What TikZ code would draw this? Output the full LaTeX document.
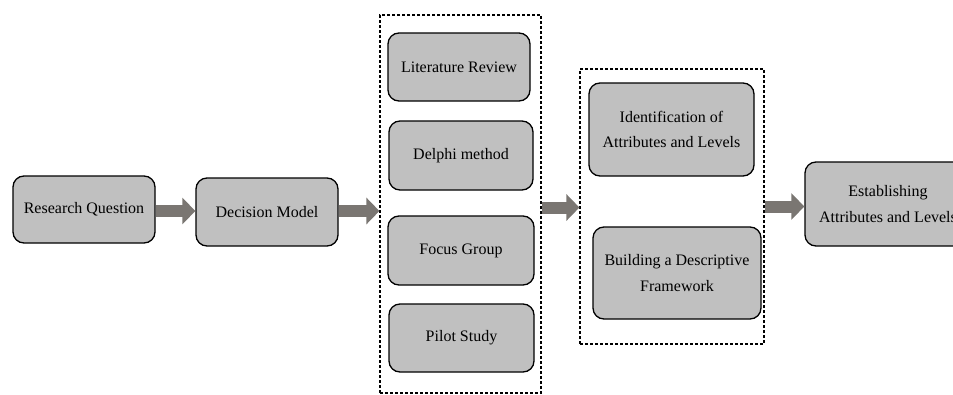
\documentclass[tikz,border=0pt]{standalone}
\usepackage{fontspec}
\setmainfont{Liberation Serif}
\usetikzlibrary{arrows.meta}
\definecolor{boxgray}{RGB}{192,192,192}
\definecolor{arrgray}{RGB}{122,118,114}
\tikzset{
  stepbox/.style={draw=black, line width=1.3pt, fill=boxgray, rounded corners=11pt,
    inner sep=0pt, align=center, font=\fontsize{16pt}{25.5pt}\selectfont},
  groupbox/.style={draw=black, line width=1.2pt, dash pattern=on 3pt off 2pt, inner sep=0pt},
  fatarrow/.style={draw=arrgray, line width=12pt, -{Triangle[length=13pt,width=26pt]}}
}
\begin{document}
\begin{tikzpicture}[x=1pt,y=1pt]
\useasboundingbox (0,0) rectangle (953,-394);
% groups
\node[groupbox, minimum width=161pt, minimum height=378pt] (g1) at (460.5,-204) {};
\node[groupbox, minimum width=184pt, minimum height=275pt] (g2) at (672,-206.5) {};
% boxes
\node[stepbox, minimum width=142pt, minimum height=67pt] (rq) at (84,-209.5) {Research Question};
\node[stepbox, minimum width=142pt, minimum height=68pt] (dm) at (267,-212) {Decision Model};
\node[stepbox, minimum width=142pt, minimum height=68pt] (lr) at (459,-67) {Literature Review};
\node[stepbox, minimum width=144pt, minimum height=69pt] (dl) at (461,-155.5) {Delphi method};
\node[stepbox, minimum width=146pt, minimum height=69pt] (fg) at (461,-250.5) {Focus Group};
\node[stepbox, minimum width=145pt, minimum height=68pt] (ps) at (461.5,-338) {Pilot Study};
\node[stepbox, minimum width=165pt, minimum height=93pt] (id) at (671.5,-129.5) {Identification of\\Attributes and Levels};
\node[stepbox, minimum width=168pt, minimum height=92pt] (bd) at (677,-273) {Building a Descriptive\\Framework};
\node[stepbox, minimum width=166pt, minimum height=84pt] (es) at (888,-204) {Establishing\\Attributes and Levels};
% arrows
\draw[fatarrow] ([yshift=-1.5pt]rq.east) -- ([yshift=-1.5pt]rq.east -| dm.west);
\draw[fatarrow] ([yshift=1pt]dm.east) -- ([yshift=1pt]dm.east -| g1.west);
\draw[fatarrow] ([yshift=-3.5pt]g1.east) -- ([yshift=-3.5pt]g1.east -| g2.west);
\draw[fatarrow] (g2.east) -- (g2.east -| es.west);
\end{tikzpicture}
\end{document}
